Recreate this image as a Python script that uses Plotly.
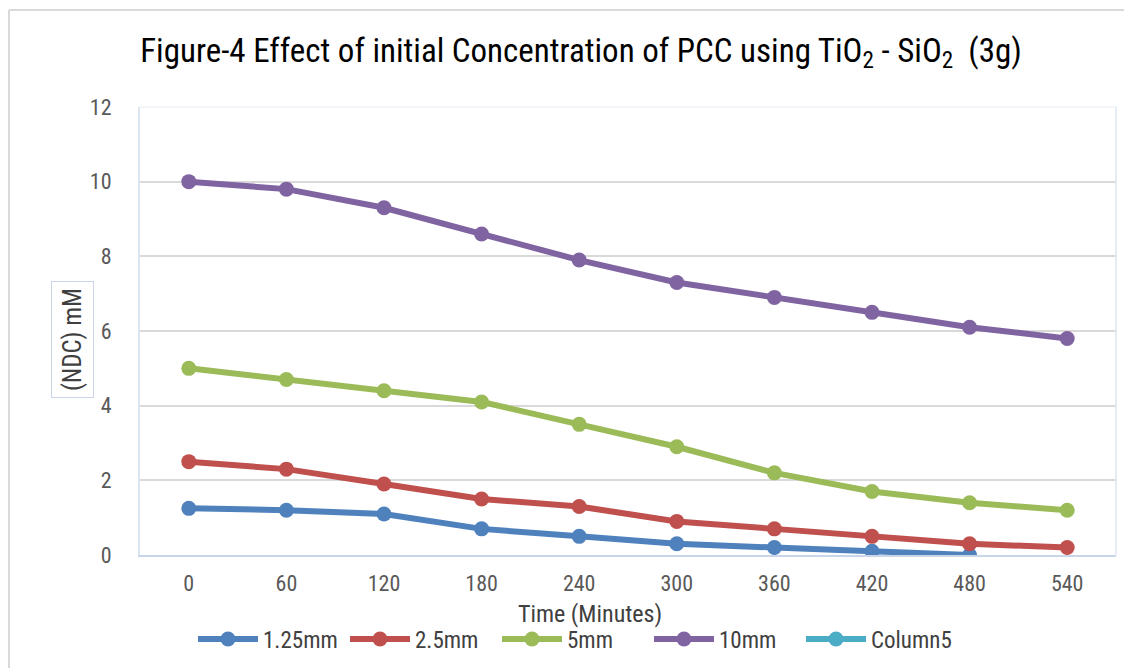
import plotly.graph_objects as go

time_min = [0, 60, 120, 180, 240, 300, 360, 420, 480, 540]
s_125 = [1.25, 1.2, 1.1, 0.7, 0.5, 0.3, 0.2, 0.1, 0.0, None]
s_25 = [2.5, 2.3, 1.9, 1.5, 1.3, 0.9, 0.7, 0.5, 0.3, 0.2]
s_5 = [5.0, 4.7, 4.4, 4.1, 3.5, 2.9, 2.2, 1.7, 1.4, 1.2]
s_10 = [10.0, 9.8, 9.3, 8.6, 7.9, 7.3, 6.9, 6.5, 6.1, 5.8]
s_col5 = [None] * 10

series_names = ["1.25mm", "2.5mm", "5mm", "10mm", "Column5"]
series_vals = [s_125, s_25, s_5, s_10, s_col5]
colors = ["#4f81bd", "#c0504d", "#9bbb59", "#8064a2", "#4bacc6"]
y_ticks = [0, 2, 4, 6, 8, 10, 12]

FONT = "Liberation Sans Narrow, Arial Narrow, Roboto Condensed, Liberation Sans, sans-serif"
TXT = "#595959"

fig = go.Figure()
for name, vals, col in zip(series_names, series_vals, colors):
    fig.add_trace(go.Scatter(
        x=time_min, y=vals, name=name, mode="lines+markers",
        line=dict(color=col, width=6),
        marker=dict(color=col, size=15),
        connectgaps=False,
    ))

# page places the figure 8px from the window edge
OFF = 8
W, H = 1132 - OFF, 668 - OFF
L, R, T, B = 140 - OFF, 16, 107 - OFF, 668 - 555
pw, ph = W - L - R, H - T - B

def px(xs):
    return (xs - OFF - L) / pw

def py(ys):
    return (H - B - (ys - OFF)) / ph

fig.update_layout(
    width=W, height=H,
    margin=dict(l=L, r=R, t=T, b=B, autoexpand=False),
    paper_bgcolor="white", plot_bgcolor="white",
    font=dict(family=FONT, color=TXT, size=22),
    title=dict(
        text="Figure-4 Effect of initial Concentration of PCC using TiO<sub>2</sub> - SiO<sub>2</sub>  (3g)",
        x=px(581), xref="paper", xanchor="center",
        y=1 - (50 - OFF) / H, yref="container", yanchor="middle",
        font=dict(family=FONT, size=33, color="#000000"),
    ),
    xaxis=dict(
        range=[-30, 570], tickmode="array", tickvals=time_min,
        ticktext=[str(t) for t in time_min],
        tickfont=dict(family=FONT, size=22, color=TXT),
        showgrid=False, zeroline=False, showline=True,
        linecolor="#c9d6ea", linewidth=2, ticks="",
        ticklabelstandoff=8, automargin=False,
    ),
    yaxis=dict(
        range=[0, 12], tickmode="array", tickvals=y_ticks,
        tickfont=dict(family=FONT, size=22, color=TXT),
        showgrid=True, gridcolor="#d9d9d9", gridwidth=1.5,
        zeroline=False, showline=True, linecolor="#dce5f2", linewidth=2,
        ticks="", ticklabelstandoff=22, automargin=False,
    ),
    legend=dict(
        orientation="h", x=px(193), xanchor="left", y=py(639), yanchor="middle",
        font=dict(family=FONT, size=23, color="#404040"),
        bgcolor="rgba(0,0,0,0)", entrywidth=77, itemwidth=60,
        tracegroupgap=0,
    ),
    showlegend=True,
)

# x axis title (offset left of the plot centre, as in the reference)
fig.add_annotation(
    text="Time (Minutes)", xref="paper", yref="paper",
    x=px(590), y=py(614), xanchor="center", yanchor="middle",
    showarrow=False, font=dict(family=FONT, size=24, color="#404040"),
)

# y axis title as boxed text
fig.add_annotation(
    text="(NDC) mM", textangle=-90, xref="paper", yref="paper",
    x=px(72), y=py(340), xanchor="center", yanchor="middle",
    showarrow=False, font=dict(family=FONT, size=25, color="#404040"),
    bordercolor="#c9d6ea", borderwidth=1, borderpad=6, bgcolor="white",
)

# chart outer border and faint plot-area border
fig.add_shape(type="line", xref="paper", yref="paper",
              x0=px(9), x1=px(9), y0=py(10), y1=py(668), line=dict(color="#d9d9d9", width=2))
fig.add_shape(type="line", xref="paper", yref="paper",
              x0=px(9), x1=px(1132), y0=py(10), y1=py(10), line=dict(color="#d9d9d9", width=2))
fig.add_shape(type="line", xref="paper", yref="paper",
              x0=0, x1=1, y0=1, y1=1, line=dict(color="#eef2f8", width=1.5))
fig.add_shape(type="line", xref="paper", yref="paper",
              x0=1, x1=1, y0=0, y1=1, line=dict(color="#dde6f2", width=1.5))

fig.write_html("out.html")
